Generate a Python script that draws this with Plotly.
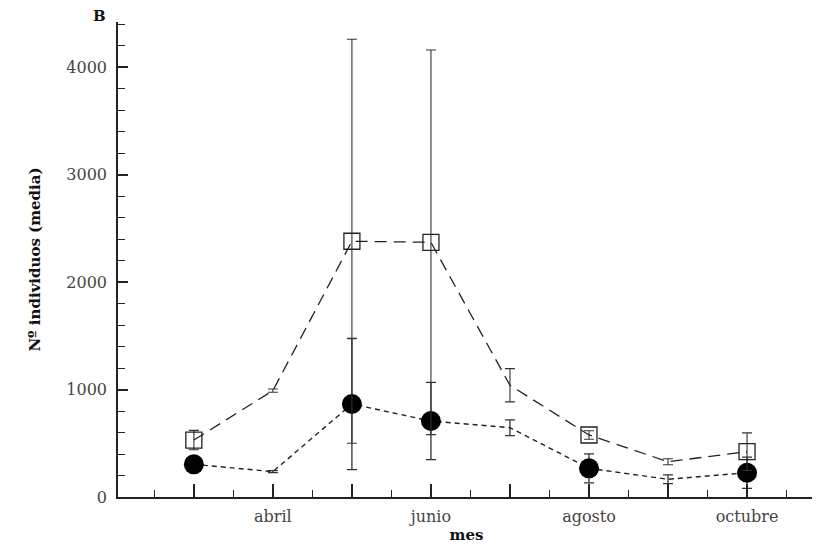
import plotly.graph_objects as go

month_num = [3, 4, 5, 6, 7, 8, 9, 10]
month_names = ["marzo", "abril", "mayo", "junio", "julio", "agosto", "septiembre", "octubre"]
tick_text = ["", "abril", "", "junio", "", "agosto", "", "octubre"]
minor_ticks = [2.5, 3.5, 4.5, 5.5, 6.5, 7.5, 8.5, 9.5, 10.5]

squares_mean = [530, 990, 2380, 2370, 1040, 577, 328, 422]
squares_err = [90, 15, 1880, 1790, 155, 40, 28, 175]
circles_mean = [304, 236, 865, 707, 645, 267, 165, 226]
circles_err = [50, 10, 610, 360, 73, 135, 40, 145]
# months where a symbol is drawn (others show only the error bar)
marker_shown = [True, False, True, True, False, True, False, True]

y_ticks = [0, 1000, 2000, 3000, 4000]

SERIF = "DejaVu Serif, Liberation Serif, serif"
INK = "#222222"

sq_sizes = [16 if s else 0 for s in marker_shown]
ci_sizes = [20 if s else 0 for s in marker_shown]

fig = go.Figure()

fig.add_trace(go.Scatter(
    x=month_num, y=circles_mean, mode="lines+markers",
    line=dict(color=INK, width=1.4, dash="5px,4px"),
    marker=dict(symbol="circle", size=ci_sizes, color="black", opacity=1,
                line=dict(width=0)),
    error_y=dict(type="data", array=circles_err, visible=True,
                 color="#333333", thickness=1.3, width=5),
    showlegend=False, hovertext=month_names,
))

fig.add_trace(go.Scatter(
    x=month_num, y=squares_mean, mode="lines+markers",
    line=dict(color=INK, width=1.3, dash="12px,7px"),
    marker=dict(symbol="square-open", size=sq_sizes, color="#222222", opacity=1,
                line=dict(width=1.3, color="#222222")),
    error_y=dict(type="data", array=squares_err, visible=True,
                 color="#333333", thickness=1.1, width=5),
    showlegend=False, hovertext=month_names,
))

fig.update_layout(
    width=812, height=541,
    margin=dict(l=110, r=5, t=14, b=52),
    paper_bgcolor="white", plot_bgcolor="white",
    font=dict(family=SERIF, color="#333333"),
    xaxis=dict(
        range=[2.04, 10.86],
        tickmode="array", tickvals=month_num, ticktext=tick_text,
        ticks="inside", ticklen=13, tickwidth=1.5, tickcolor=INK,
        minor=dict(tickvals=minor_ticks,
                   ticks="inside", ticklen=7, tickwidth=1.3, tickcolor=INK),
        showline=True, linecolor=INK, linewidth=1.5,
        showgrid=False, zeroline=False,
        tickfont=dict(family=SERIF, size=16, color="#444444"),
        ticklabelstandoff=4,
        title=dict(text="<b>mes</b>", font=dict(family=SERIF, size=15, color="#111111"),
                   standoff=4),
    ),
    yaxis=dict(
        range=[0, 4420],
        tickmode="array", tickvals=y_ticks,
        ticks="inside", ticklen=10, tickwidth=1.5, tickcolor=INK,
        minor=dict(dtick=200, tick0=0, ticks="inside", ticklen=7, tickwidth=1.3, tickcolor=INK),
        showline=True, linecolor=INK, linewidth=1.5,
        showgrid=False, zeroline=False,
        tickfont=dict(family=SERIF, size=16, color="#444444"),
        ticklabelstandoff=6,
        title=dict(text="<b>Nº individuos (media)</b>",
                   font=dict(family=SERIF, size=15, color="#111111"), standoff=22),
    ),
    annotations=[dict(text="<b>B</b>", xref="paper", yref="paper",
                      x=-0.026, y=1.012, xanchor="center", yanchor="middle",
                      showarrow=False, font=dict(family=SERIF, size=15, color="#111111"))],
)

fig.write_html("out.html")
